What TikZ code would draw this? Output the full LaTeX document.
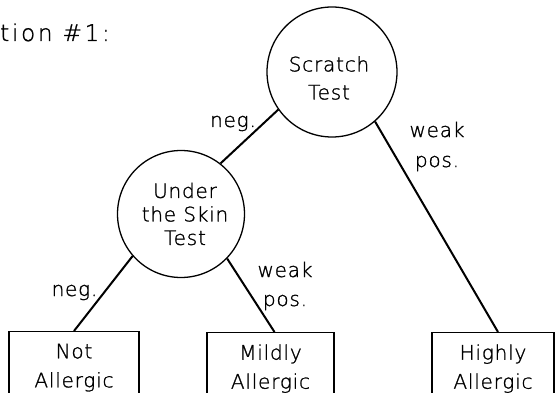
\documentclass[tikz,border=0pt]{standalone}
\usepackage{fontspec}
\setmainfont{DejaVu Sans ExtraLight}[LetterSpace=4,FakeBold=1.2]
\usetikzlibrary{calc}
\begin{document}
\begin{tikzpicture}[x=1pt,y=-1pt,
  every node/.style={font=\fontsize{20}{29}\selectfont},
  circ/.style={circle,draw,line width=1.3pt,inner sep=0pt},
  leaf/.style={rectangle,draw,line width=1.3pt,anchor=north,minimum height=72pt,align=center,inner sep=0pt},
  edge/.style={line width=2pt},
  lbl/.style={inner sep=0pt}]
\useasboundingbox (0,0) rectangle (555,393);
\clip (0,0) rectangle (555,393);
\node[anchor=base west, inner sep=0pt, font=\fontsize{23}{26}\selectfont\addfontfeatures{LetterSpace=12}] (title) at (0,41) {tion \#1:};
\node[circ, minimum size=130pt] (scratch) at (332,72) {};
\node[align=center, inner sep=0pt, font=\fontsize{20}{28}\selectfont] (scratchtext) at (329,78) {Scratch\\Test};
\node[circ, minimum size=127pt] (under) at (181,214) {};
\node[align=center, inner sep=0pt, font=\fontsize{20}{23.5}\selectfont] (undertext) at (185,214) {Under\\the Skin\\Test};
\node[leaf, minimum width=130pt] (not) at (74,331) {Not\\Allergic};
\node[leaf, minimum width=127pt] (mildly) at (270.5,332) {Mildly\\Allergic};
\node[leaf, minimum width=122pt] (highly) at (493,332) {Highly\\Allergic};
\draw[edge] (scratch.215) -- (under.52);
\draw[edge] (scratch.311) -- ($(highly.north)+(5,0)$);
\draw[edge] (under.221) -- (not.north);
\draw[edge] (under.316) -- ($(mildly.north)+(4,0)$);
\node[lbl, anchor=base] (negA) at (233,127) {neg.};
\node[lbl, align=center, font=\fontsize{20}{30}\selectfont] (weakA) at (437,146.5) {weak\\pos.};
\node[lbl, anchor=base] (negB) at (74.5,296) {neg.};
\node[lbl, align=center, font=\fontsize{20}{29}\selectfont] (weakB) at (285,286) {weak\\pos.};
\end{tikzpicture}
\end{document}
